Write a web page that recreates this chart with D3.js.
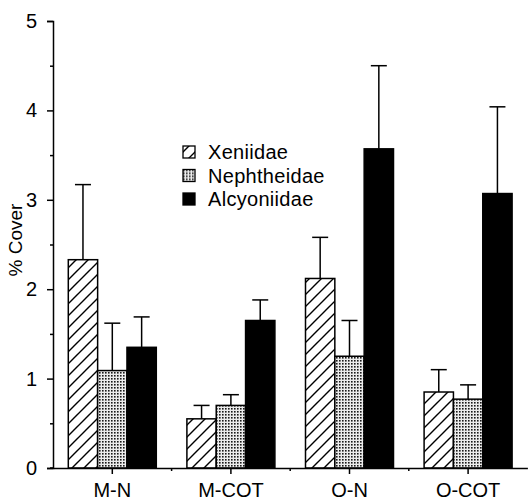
<!DOCTYPE html>
<html>
<head>
<meta charset="utf-8">
<script src="https://cdn.jsdelivr.net/npm/d3@7/dist/d3.min.js"></script>
<style>
  body { margin: 0; background: #fff; }
  svg { display: block; font-family: "Liberation Sans", Arial, sans-serif; }
</style>
</head>
<body>
<svg id="chart" width="528" height="502"></svg>
<script>
const categories = ["M-N", "M-COT", "O-N", "O-COT"];
const seriesNames = ["Xeniidae", "Nephtheidae", "Alcyoniidae"];
const xeniidae = [2.33, 0.55, 2.12, 0.85];
const xeniidaeErr = [3.17, 0.70, 2.58, 1.10];
const nephtheidae = [1.09, 0.70, 1.25, 0.77];
const nephtheidaeErr = [1.62, 0.82, 1.65, 0.93];
const alcyoniidae = [1.35, 1.65, 3.57, 3.07];
const alcyoniidaeErr = [1.69, 1.88, 4.50, 4.04];
const yTicks = [0, 1, 2, 3, 4, 5];
const yMinorTicks = [0.5, 1.5, 2.5, 3.5, 4.5];

(function () {
const seriesValues = [xeniidae, nephtheidae, alcyoniidae];
const seriesErrs = [xeniidaeErr, nephtheidaeErr, alcyoniidaeErr];
const data = [];
categories.forEach((c, i) => {
  seriesNames.forEach((s, j) => {
    data.push({cat: c, series: s, idx: j, value: seriesValues[j][i], err: seriesErrs[j][i]});
  });
});

const svg = d3.select("#chart");
const mLeft = 53, mRight = 527.4, mTop = 21, mBottom = 468;
const fs = 20;

const defs = svg.append("defs");
const hatch = defs.append("pattern").attr("id", "hatch")
  .attr("patternUnits", "userSpaceOnUse").attr("width", 12).attr("height", 12);
hatch.append("rect").attr("width", 12).attr("height", 12).attr("fill", "#fff");
hatch.append("path").attr("d", "M-3,3 L3,-3 M0,12 L12,0 M9,15 L15,9")
  .attr("stroke", "#000").attr("stroke-width", 1.4);

const dots = defs.append("pattern").attr("id", "dots")
  .attr("patternUnits", "userSpaceOnUse").attr("width", 3).attr("height", 3);
dots.append("rect").attr("width", 3).attr("height", 3).attr("fill", "#ececec");
dots.append("rect").attr("x", 0).attr("y", 0).attr("width", 1.6).attr("height", 1.6).attr("fill", "#1a1a1a");

const fills = {"Xeniidae": "url(#hatch)", "Nephtheidae": "url(#dots)", "Alcyoniidae": "#000"};

const x0 = d3.scaleBand().domain(categories).range([mLeft, mRight]).paddingInner(0).paddingOuter(0);
const groupW = 88;
const x1 = d3.scaleBand().domain(seriesNames).range([0, groupW]);
const y = d3.scaleLinear().domain([0, 5]).range([mBottom, mTop]);

const bars = svg.append("g");
bars.selectAll("rect").data(data).join("rect")
  .attr("x", d => x0(d.cat) + x0.bandwidth() / 2 - groupW / 2 + x1(d.series))
  .attr("y", d => y(d.value))
  .attr("width", x1.bandwidth())
  .attr("height", d => y(0) - y(d.value))
  .attr("fill", d => fills[d.series])
  .attr("stroke", "#000").attr("stroke-width", 1.5);

const errs = svg.append("g").attr("stroke", "#000").attr("stroke-width", 1.5);
data.forEach(d => {
  const cx = x0(d.cat) + x0.bandwidth() / 2 - groupW / 2 + x1(d.series) + x1.bandwidth() / 2;
  errs.append("line").attr("x1", cx).attr("x2", cx).attr("y1", y(d.value)).attr("y2", y(d.err));
  errs.append("line").attr("x1", cx - 8).attr("x2", cx + 8).attr("y1", y(d.err)).attr("y2", y(d.err));
});

svg.append("g").attr("transform", `translate(${mLeft},0)`)
  .call(d3.axisLeft(y).tickValues(yTicks).tickSize(6).tickPadding(10).tickFormat(d3.format("d")));
svg.append("g").attr("transform", `translate(${mLeft},0)`)
  .call(d3.axisLeft(y).tickValues(yMinorTicks).tickSize(3).tickFormat(""))
  .select(".domain").remove();

svg.append("g").attr("transform", `translate(0,${mBottom})`)
  .call(d3.axisBottom(x0).tickSize(6).tickPadding(9).tickSizeOuter(0));
const boundaries = categories.slice(1).map(c => x0(c));
svg.append("g").attr("stroke", "#000").attr("stroke-width", 1.5)
  .selectAll("line").data(boundaries).join("line")
  .attr("x1", d => d).attr("x2", d => d).attr("y1", mBottom).attr("y2", mBottom + 3);

svg.selectAll(".domain").attr("stroke-width", 1.5);
svg.selectAll(".tick line").attr("stroke-width", 1.5);
svg.selectAll(".tick text").attr("font-size", fs).attr("fill", "#000")
  .attr("font-family", "'Liberation Sans', Arial, sans-serif");
svg.append("line").attr("x1", mLeft - 3).attr("x2", mLeft).attr("y1", mBottom).attr("y2", mBottom)
  .attr("stroke", "#000").attr("stroke-width", 1.5);

svg.append("text").attr("transform", `translate(22,240) rotate(-90)`)
  .attr("text-anchor", "middle").attr("font-size", 19).attr("fill", "#000").text("% Cover");

const legend = svg.append("g").attr("transform", "translate(183,152)");
seriesNames.forEach((s, i) => {
  const g = legend.append("g").attr("transform", `translate(0,${i * 23.5})`);
  g.append("rect").attr("x", 0).attr("y", -6).attr("width", 12).attr("height", 12)
    .attr("fill", fills[s]).attr("stroke", "#000").attr("stroke-width", 1.3);
  g.append("text").attr("x", 25).attr("y", 0).attr("dy", "0.35em")
    .attr("font-size", fs).attr("letter-spacing", 0.3).attr("fill", "#000").text(s);
});
})();
</script>
</body>
</html>
